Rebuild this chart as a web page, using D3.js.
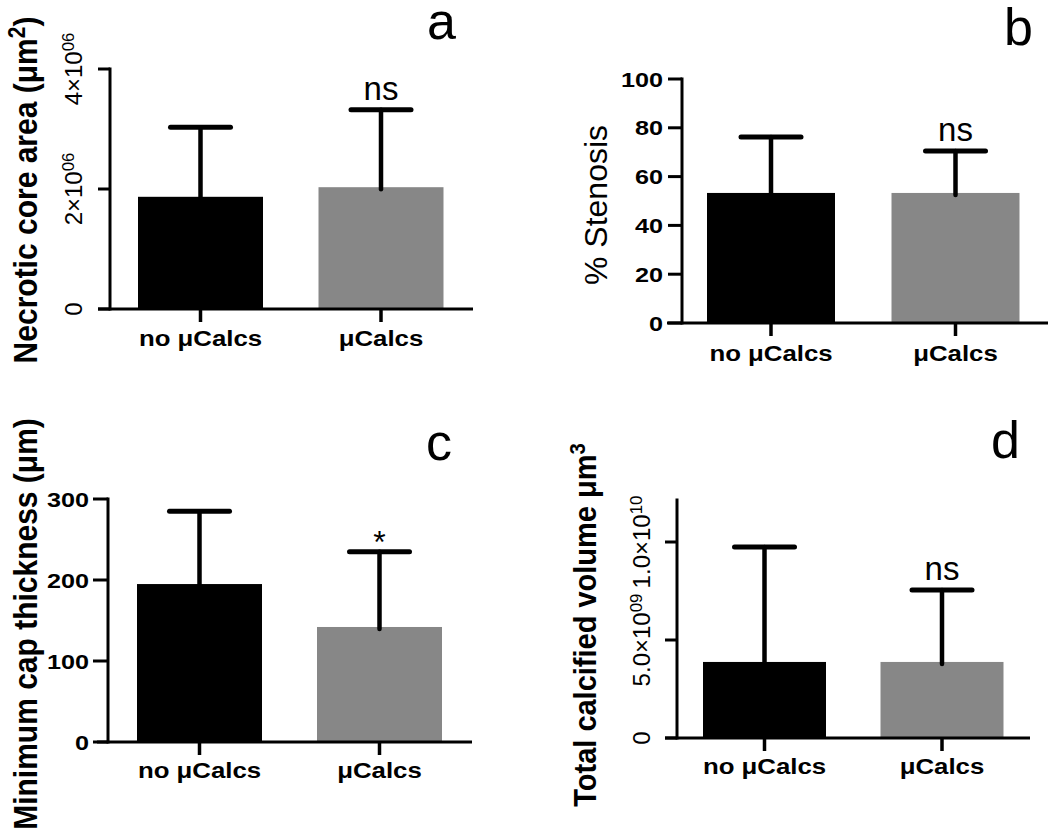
<!DOCTYPE html>
<html>
<head>
<meta charset="utf-8">
<script src="https://cdn.jsdelivr.net/npm/d3@7"></script>
<style>
  html, body { margin: 0; padding: 0; background: #fff; }
  svg { display: block; font-family: "Liberation Sans", Arial, Helvetica, sans-serif; }
</style>
</head>
<body>
<svg id="chart" width="1050" height="835"></svg>
<script>
// ---------- DATA ----------
const categories = ["no μCalcs", "μCalcs"];
const barColors = ["#000000", "#878787"];

const necroticMean = [1.87e6, 2.03e6];
const necroticSD   = [1.16e6, 1.29e6];
const necroticSig  = ["", "ns"];
const necroticTicks = [0, 2e6, 4e6];
const necroticTickLabels = [["0", ""], ["2×10", "06"], ["4×10", "06"]];

const stenosisMean = [53.3, 53.3];
const stenosisSD   = [22.9, 17.2];
const stenosisSig  = ["", "ns"];
const stenosisTicks = [0, 20, 40, 60, 80, 100];
const stenosisTickLabels = ["0", "20", "40", "60", "80", "100"];

const capMean = [195, 142];
const capSD   = [90, 93];
const capSig  = ["", "*"];
const capTicks = [0, 100, 200, 300];
const capTickLabels = ["0", "100", "200", "300"];

const calcMean = [3.88e9, 3.88e9];
const calcSD   = [5.86e9, 3.67e9];
const calcSig  = ["", "ns"];
const calcTicks = [0, 5e9, 1e10];
const calcTickLabels = [["0", ""], ["5.0×10", "09"], ["1.0×10", "10"]];

// ---------- HELPERS ----------
const svg = d3.select("#chart");

function addText(x, y, opts) {
  const t = svg.append("text")
    .attr("transform", `translate(${x},${y}) scale(${opts.sx || 1},1) rotate(${opts.rot || 0})`)
    .attr("text-anchor", opts.anchor || "start")
    .attr("font-size", opts.size)
    .attr("font-weight", opts.weight || "normal")
    .attr("fill", "#000");
  if (opts.dy) t.attr("dy", opts.dy);
  const parts = opts.parts || [[opts.text, false]];
  parts.forEach(([s, sup]) => {
    if (!s) return;
    const ts = t.append("tspan").text(s);
    if (sup === "up") ts.attr("font-size", "0.7em").attr("dy", "-0.5em");
    else if (sup === "down") ts.attr("dy", "0.35em");
  });
  return t;
}

function panel(cfg) {
  const y = d3.scaleLinear().domain(cfg.domain).range([cfg.y0, cfg.yTop]);
  const x = d3.scalePoint().domain(categories).range(cfg.centers);
  const g = svg.append("g");

  // bars
  g.selectAll("rect.bar").data(cfg.mean).join("rect")
    .attr("x", (d, i) => x(categories[i]) - cfg.barW / 2)
    .attr("y", d => y(d))
    .attr("width", cfg.barW)
    .attr("height", d => y(0) - y(d))
    .attr("fill", (d, i) => barColors[i]);

  // error bars (upper)
  cfg.mean.forEach((m, i) => {
    const cx = x(categories[i]);
    const top = y(m + cfg.sd[i]);
    g.append("line").attr("x1", cx).attr("x2", cx).attr("y1", y(m) + 2).attr("y2", top)
      .attr("stroke", "#000").attr("stroke-width", 4.5).attr("stroke-linecap", "round");
    g.append("line").attr("x1", cx - 30).attr("x2", cx + 30).attr("y1", top).attr("y2", top)
      .attr("stroke", "#000").attr("stroke-width", 5).attr("stroke-linecap", "round");
    if (cfg.sig[i]) {
      const isStar = cfg.sig[i] === "*";
      addText(cx, top - (isStar ? -1 : 10), { text: cfg.sig[i], size: isStar ? 32 : 33, anchor: "middle" });
    }
  });

  // y axis line
  g.append("line").attr("x1", cfg.axisX).attr("x2", cfg.axisX)
    .attr("y1", y(0)).attr("y2", cfg.axisTop != null ? cfg.axisTop : y(cfg.domain[1]))
    .attr("stroke", "#000").attr("stroke-width", 3).attr("stroke-linecap", "square");
  // y ticks
  cfg.ticks.forEach(t => {
    g.append("line").attr("x1", cfg.axisX - cfg.tickLen).attr("x2", cfg.axisX)
      .attr("y1", y(t)).attr("y2", y(t)).attr("stroke", "#000").attr("stroke-width", 3);
  });
  // x axis line
  g.append("line").attr("x1", cfg.xLine[0]).attr("x2", cfg.xLine[1])
    .attr("y1", y(0)).attr("y2", y(0)).attr("stroke", "#000").attr("stroke-width", 3);
  // x ticks + category labels
  categories.forEach(c => {
    g.append("line").attr("x1", x(c)).attr("x2", x(c)).attr("y1", y(0)).attr("y2", y(0) + 13)
      .attr("stroke", "#000").attr("stroke-width", 3.5);
    addText(x(c), cfg.catY, { text: c, size: 21.5, weight: "bold", anchor: "middle", sx: 1.2 });
  });

  // tick labels
  cfg.ticks.forEach((t, i) => {
    const lab = cfg.tickLabels[i];
    if (cfg.rotTicks) {
      addText(cfg.tickLabelX, y(t), { parts: [[lab[0], false], [lab[1], "up"]], size: 24, anchor: "middle", rot: -90 });
    } else {
      addText(cfg.tickLabelX, y(t), { text: lab, size: 21, weight: "bold", anchor: "end", sx: 1.2, dy: "0.36em" });
    }
  });

  // y label
  addText(cfg.yLabel.x, cfg.yLabel.y, { parts: cfg.yLabel.parts, size: cfg.yLabel.size,
    weight: cfg.yLabel.weight, anchor: "middle", rot: -90, sx: cfg.yLabel.sx || 1 });

  // panel letter
  addText(cfg.letter.x, cfg.letter.y, { text: cfg.letter.t, size: 52 });
}

// ---------- PANELS ----------
panel({
  domain: [0, 4e6], y0: 309, yTop: 69, axisX: 110, tickLen: 12, xLine: [98, 473],
  centers: [200.5, 381], barW: 125,
  mean: necroticMean, sd: necroticSD, sig: necroticSig,
  ticks: necroticTicks, tickLabels: necroticTickLabels, rotTicks: true, tickLabelX: 82,
  catY: 346,
  yLabel: { x: 37, y: 190, size: 30, weight: "bold", sx: 1.12,
    parts: [["Necrotic core area (μm", false], ["2", "up"], [")", "down"]] },
  letter: { x: 427, y: 39, t: "a" }
});

panel({
  domain: [0, 100], y0: 323, yTop: 79, axisX: 682, tickLen: 14, xLine: [667, 1048],
  centers: [771, 955.5], barW: 128,
  mean: stenosisMean, sd: stenosisSD, sig: stenosisSig,
  ticks: stenosisTicks, tickLabels: stenosisTickLabels, rotTicks: false, tickLabelX: 663,
  catY: 361,
  yLabel: { x: 607, y: 205, size: 32, weight: "normal", parts: [["% Stenosis", false]] },
  letter: { x: 1004, y: 45, t: "b" }
});

panel({
  domain: [0, 300], y0: 742, yTop: 499, axisX: 108, tickLen: 15, xLine: [97, 472],
  centers: [199.5, 379.5], barW: 125,
  mean: capMean, sd: capSD, sig: capSig,
  ticks: capTicks, tickLabels: capTickLabels, rotTicks: false, tickLabelX: 89,
  catY: 778,
  yLabel: { x: 37, y: 624, size: 30, weight: "bold", sx: 1.12, parts: [["Minimum cap thickness (μm)", false]] },
  letter: { x: 426, y: 460, t: "c" }
});

panel({
  domain: [0, 1.2e10], y0: 738, yTop: 502.8, axisX: 677, tickLen: 12, xLine: [665, 1030],
  centers: [764.5, 942], barW: 123, axisTop: 500,
  mean: calcMean, sd: calcSD, sig: calcSig,
  ticks: calcTicks, tickLabels: calcTickLabels, rotTicks: true, tickLabelX: 650,
  catY: 774,
  yLabel: { x: 596, y: 625, size: 29, weight: "bold", sx: 1.1,
    parts: [["Total calcified volume  μm", false], ["3", "up"]] },
  letter: { x: 991, y: 458, t: "d" }
});
</script>
</body>
</html>
